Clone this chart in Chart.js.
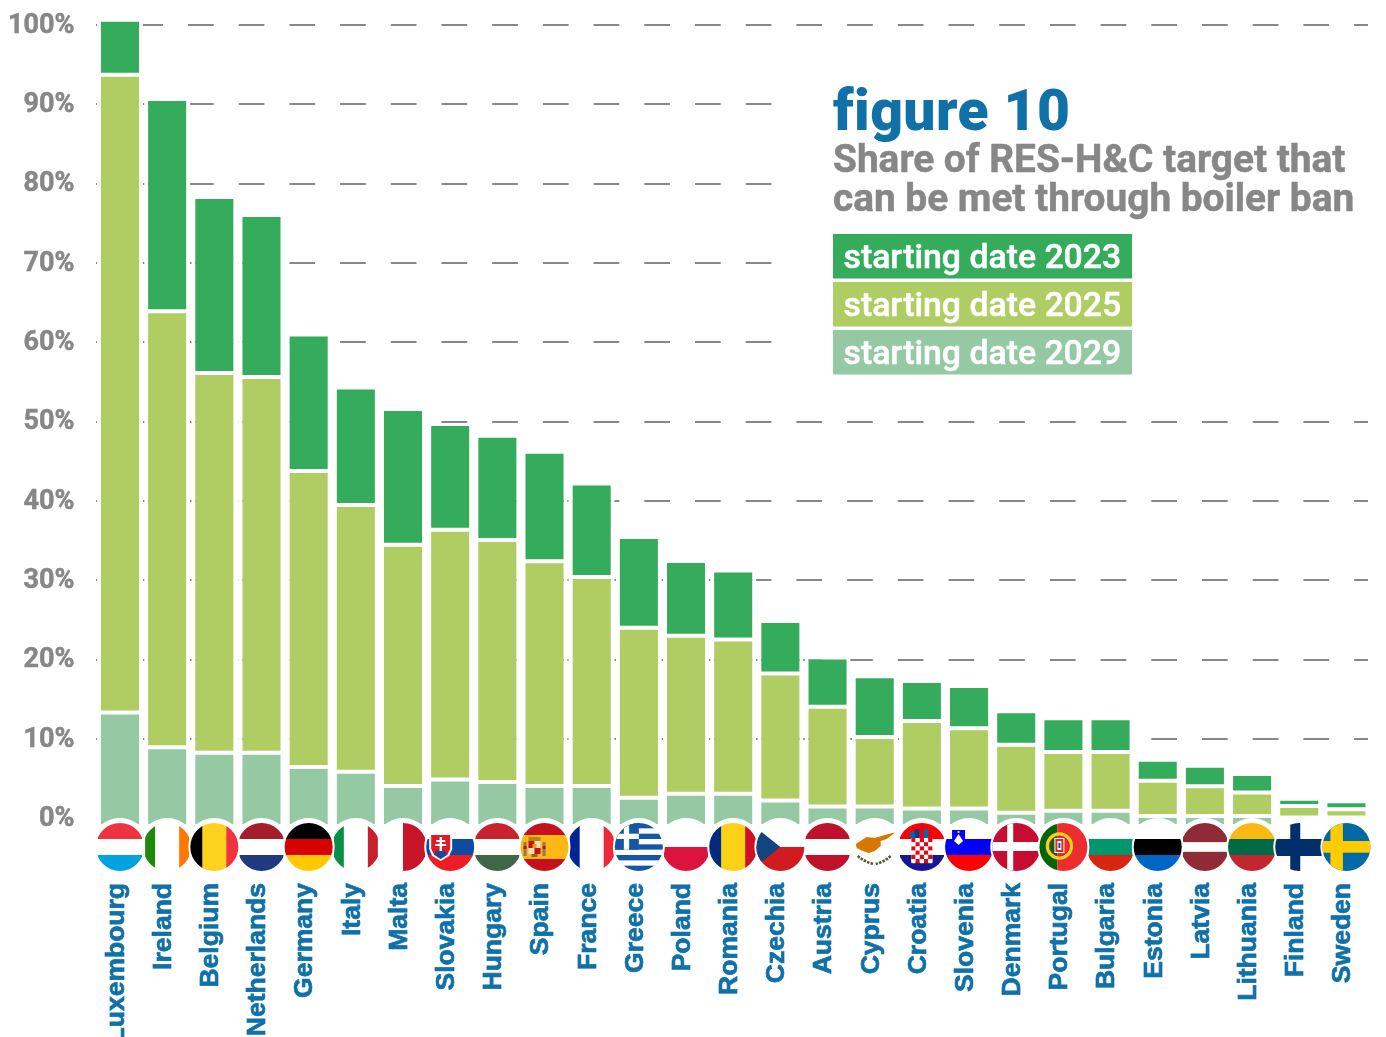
<!DOCTYPE html>
<html><head><meta charset="utf-8">
<style>html,body{margin:0;padding:0;background:#fff;overflow:hidden}#w{width:1386px;height:1037px;position:relative}canvas{display:block}</style>
<script src="https://cdn.jsdelivr.net/npm/chart.js@4/dist/chart.umd.min.js"></script>
</head><body><div id="w"><canvas id="c" width="1386" height="1037"></canvas></div>
<script>
const countries=["Luxembourg","Ireland","Belgium","Netherlands","Germany","Italy","Malta","Slovakia","Hungary","Spain","France","Greece","Poland","Romania","Czechia","Austria","Cyprus","Croatia","Slovenia","Denmark","Portugal","Bulgaria","Estonia","Latvia","Lithuania","Finland","Sweden"];
const share2029=[13.36,8.98,8.28,8.28,6.48,5.89,4.09,4.89,4.59,4.09,4.09,2.6,3.09,3.09,2.25,1.5,1.5,1.25,1.25,0.7,0.95,0.95,0.3,0.3,0.3,null,null];
const share2025=[80.36,54.93,47.86,47.36,37.29,33.6,30.41,31.5,30.51,28.31,26.32,21.44,19.94,19.44,16,12.56,8.77,11.02,10.12,8.57,7.43,7.43,4.44,3.75,2.96,1.56,1.15];
const share2023=[6.93,26.77,22.18,20.39,17.2,14.81,17.1,13.31,13.11,13.81,11.81,11.42,9.42,8.72,6.63,6.23,7.63,5.03,5.33,4.24,4.24,4.24,2.66,2.59,2.34,0.92,1.01];
const yTicks=[0,10,20,30,40,50,60,70,80,90,100];
const titleText="figure 10";
const subtitleLines=["Share of RES-H&C target that","can be met through boiler ban"];
const legendLabels=["starting date 2023","starting date 2025","starting date 2029"];

const GREEN="#35ac5b",LIME="#afcd62",PALE="#95c9a3",BLUE="#1070a8",GREY="#878787";
const FLOOR=-0.96;

const flagSpecs={
 Luxembourg:{h:["#ef3340","#fff","#00a3e0"]},Ireland:{v:["#1f8a0a","#fff","#ff7900"]},Belgium:{v:["#000","#fdd31f","#ef3340"]},
 Netherlands:{h:["#a51d2d","#fff","#1f3a7f"]},Germany:{h:["#000","#d80000","#ffc800"]},Italy:{v:["#0a8f46","#fff","#c8202f"]},
 Malta:{v2:["#fff","#c8152a"]},Slovakia:{h:["#fff","#0d4ca1","#ee1c25"]},Hungary:{h:["#c8242f","#fff","#3f6645"]},
 Spain:{hw:[["#c4111b",1],["#fdb913",2],["#c4111b",1]]},France:{v:["#002395","#fff","#ed2939"]},Greece:{h:["#fff"]},
 Poland:{hw:[["#fff",1],["#dc143c",1]]},Romania:{v:["#002b7f","#fcd116","#ce1126"]},Czechia:{hw:[["#fff",1],["#d01c1f",1]]},
 Austria:{h:["#c0112b","#fff","#c0112b"]},Cyprus:{h:["#fff"]},Croatia:{h:["#ff0000","#fff","#171796"]},Slovenia:{h:["#fff","#0000ff","#ff0000"]},
 Denmark:{h:["#c60c30"]},Portugal:{v2:["#006600","#ee2e2e"],split:-6},Bulgaria:{h:["#fff","#00966e","#d62612"]},Estonia:{h:["#fff","#000","#0066c6"]},
 Latvia:{hw:[["#8f2a36",2],["#fff",1],["#8f2a36",2]]},Lithuania:{h:["#fdb913","#006a44","#c1272d"]},Finland:{h:["#fff"]},Sweden:{h:["#006aa7"]}
};
const topFlags=["Belgium","Germany","Slovakia","Spain","Greece","Romania","Czechia","Slovenia","Denmark","Portugal","Estonia","Lithuania","Finland","Sweden"];

function drawFlag(ctx,name,cx,cy,r){
 const s=flagSpecs[name];ctx.save();ctx.beginPath();ctx.arc(cx,cy,r,0,Math.PI*2);ctx.clip();
 const L=cx-36,T=cy-24,W=72,H=48;
 const rect=(c,x,y,w,h)=>{ctx.fillStyle=c;ctx.fillRect(cx+x,cy+y,w,h)};
 const poly=(c,pts)=>{ctx.fillStyle=c;ctx.beginPath();pts.forEach((p,i)=>i?ctx.lineTo(cx+p[0],cy+p[1]):ctx.moveTo(cx+p[0],cy+p[1]));ctx.closePath();ctx.fill()};
 if(s.h){const n=s.h.length;s.h.forEach((c,i)=>{ctx.fillStyle=c;ctx.fillRect(L,T+i*H/n,W,H/n+.5)})}
 if(s.hw){const t=s.hw.reduce((a,b)=>a+b[1],0);let y=T;s.hw.forEach(([c,w])=>{ctx.fillStyle=c;ctx.fillRect(L,y,W,H*w/t+.5);y+=H*w/t})}
 if(s.v){s.v.forEach((c,i)=>{ctx.fillStyle=c;ctx.fillRect(L+i*24,T,24.5,H)})}
 if(s.v2){const k=s.split||0;ctx.fillStyle=s.v2[0];ctx.fillRect(L,T,36+k,H);ctx.fillStyle=s.v2[1];ctx.fillRect(cx+k,T,36-k,H)}
 if(name==="Slovakia"){poly("#fff",[[-21,-14],[2,-14],[2,2],[-1,9],[-9.5,14],[-18,9],[-21,2]]);
  poly("#e01b24",[[-19,-12],[0,-12],[0,2],[-3,8],[-9.5,12],[-16,8],[-19,2]]);
  rect("#fff",-10.6,-10,2.4,14);rect("#fff",-14,-7,9,2);rect("#fff",-15,-3,11,2);poly("#0d4ca1",[[-16,7],[-13,3],[-9.5,5],[-6,3],[-3,7],[-9.5,12]])}
 if(name==="Spain"){rect("#b8860b",-16,-10,12,4);rect("#c4111b",-16,-6,6,7);rect("#f2dcc0",-10,-6,6,7);rect("#f2dcc0",-16,1,6,6);rect("#c4111b",-10,1,6,6);rect("#d9a520",-12,-3,4,4);rect("#8a6a10",-13,7,6,3);
  rect("#8c7a5a",-21,-5,3,14);rect("#c4111b",-21,-1,3,3);rect("#8c7a5a",-2,-5,3,14);rect("#c4111b",-2,-1,3,3)}
 if(name==="Greece"){ctx.fillStyle="#1556a8";for(let i=0;i<5;i++)ctx.fillRect(L,T+i*48/9*2,W,48/9);rect("#1556a8",-36,-24,36,26.7);rect("#fff",-15,-24,5.3,26.7);rect("#fff",-36,-13.3,36,5.3)}
 if(name==="Czechia"){poly("#11457e",[[-30,-24],[0,0],[-30,24]])}
 if(name==="Cyprus"){poly("#d57800",[[-19,-3],[-8,-10],[0,-9],[10,-12],[21,-15],[12,-8],[6,-6],[6,-1],[0,4],[-6,6],[-12,4],[-18,1]]);
  ctx.strokeStyle="#4e5b31";ctx.lineWidth=2.6;ctx.setLineDash([2.5,1.2]);ctx.beginPath();ctx.moveTo(cx-17,cy+9);ctx.quadraticCurveTo(cx-10,cy+15,cx-1,cy+17);ctx.moveTo(cx+16,cy+9);ctx.quadraticCurveTo(cx+9,cy+15,cx+1,cy+17);ctx.stroke();ctx.setLineDash([])}
 if(name==="Croatia"){rect("#fff",-10.5,-9,21,24);const sz=4.2;for(let j=0;j<6;j++)for(let i=0;i<5;i++){ctx.fillStyle=(i+j)%2?"#fff":"#e30613";ctx.fillRect(cx-10.5+i*sz,cy-9+j*sz,sz,sz)}
  rect("#0a63b0",-12,-15,5,6);rect("#0a3d91",-7,-18,4.5,9);rect("#e30613",-2.5,-19,4.5,10);rect("#0a63b0",2,-18,4.5,9);rect("#e30613",6.5,-15,5,6)}
 if(name==="Slovenia"){rect("#0000ff",-17,-17,13,11);poly("#0000ff",[[-17,-6],[-4,-6],[-10.5,1]]);poly("#fff",[[-15,-6],[-10.5,-13],[-6,-6],[-10.5,-2]]);rect("#ffd000",-11.5,-16,2,2)}
 if(name==="Denmark"){rect("#fff",-36,-5,72,9);rect("#fff",-9,-24,6,48)}
 if(name==="Portugal"){ctx.strokeStyle="#f0d21c";ctx.lineWidth=3.4;ctx.beginPath();ctx.arc(cx-4,cy-1,12,0,Math.PI*2);ctx.stroke();ctx.strokeStyle="#c8202f";ctx.lineWidth=.8;ctx.beginPath();ctx.arc(cx-4,cy-1,10,0,Math.PI*2);ctx.stroke();rect("#fff",-9,-9,10,15);rect("#e02a2a",-8,-8,8,13);rect("#fff",-6,-6,4,9);rect("#1f4fa0",-5,-4,2,5)}
 if(name==="Finland"){rect("#002f6c",-9,-24,10,48);rect("#002f6c",-36,-8,72,17)}
 if(name==="Sweden"){rect("#fecc00",-16,-24,12.5,48);rect("#fecc00",-36,-6,72,11.7)}
 ctx.restore();
}

const decorations={id:"decorations",
 beforeDatasetsDraw(chart){const c=chart.ctx;c.save();c.fillStyle="#fff";c.fillRect(775,60,611,320);c.fillRect(1368,0,18,826);c.restore()},
 afterDatasetsDraw(chart){
  const c=chart.ctx,x=chart.scales.x,cy=847;c.save();
  c.fillStyle="#fff";countries.forEach((n,i)=>{c.beginPath();c.arc(x.getPixelForValue(i),cy,29,0,Math.PI*2);c.fill()});
  countries.forEach((n,i)=>{if(!topFlags.includes(n)){const px=x.getPixelForValue(i);c.save();c.beginPath();c.rect(px-22,cy-26,44,52);c.clip();drawFlag(c,n,px,cy,24);c.restore()}});
  countries.forEach((n,i)=>{if(topFlags.includes(n)){const px=x.getPixelForValue(i);c.fillStyle="#fff";c.beginPath();c.arc(px,cy,26,0,Math.PI*2);c.fill();drawFlag(c,n,px,cy,24)}});
  c.textBaseline="alphabetic";c.textAlign="left";c.lineJoin="round";
  c.letterSpacing="0.4px";
  c.fillStyle=BLUE;c.font="900 57px Roboto";c.fillText(titleText,833,130);
  c.letterSpacing="0px";
  c.fillStyle=GREY;c.strokeStyle=GREY;c.lineWidth=.5;c.font="bold 38.8px Roboto";subtitleLines.forEach((t,i)=>{c.fillText(t,833,172+i*39);c.strokeText(t,833,172+i*39)});
  [GREEN,LIME,PALE].forEach((col,i)=>{const y=234+i*48;c.fillStyle=col;c.fillRect(833,y,299,44.5);c.fillStyle="#fff";c.strokeStyle="#fff";c.font="500 33.8px Roboto";c.fillText(legendLabels[i],843.5,y+34);c.strokeText(legendLabels[i],843.5,y+34)});
  c.restore();
 }};

const mk=(label,data,color,extra)=>Object.assign({label,data,backgroundColor:color,borderColor:"#fff",borderWidth:{top:2,bottom:2,left:4,right:4},borderSkipped:false,inflateAmount:0,barPercentage:0.976,categoryPercentage:1},extra);
new Chart(document.getElementById("c"),{
 type:"bar",
 data:{labels:countries,datasets:[
  mk("starting date 2029",share2029,PALE,{base:FLOOR}),
  mk("starting date 2025",share2025,LIME,{base:ctx=>share2029[ctx.dataIndex]===null?FLOOR:undefined}),
  mk("starting date 2023",share2023,GREEN)
 ]},
 plugins:[decorations],
 options:{responsive:false,animation:false,devicePixelRatio:1,
  layout:{autoPadding:false,padding:{top:17,right:16,bottom:0,left:0}},
  plugins:{legend:{display:false},title:{display:false},tooltip:{enabled:false}},
  scales:{
   x:{stacked:true,offset:true,grid:{display:false},border:{display:false},
    afterFit(s){s.height=211;s.paddingLeft=0;s.paddingRight=0;s.paddingTop=0;s.paddingBottom=0},
    ticks:{autoSkip:false,minRotation:90,maxRotation:90,padding:49,labelOffset:-3.5,color:BLUE,textStrokeColor:BLUE,textStrokeWidth:0.7,font:{family:"'Liberation Sans'",weight:"bold",size:26.5}}},
   y:{stacked:true,min:FLOOR,max:101,
    afterFit(s){s.width=96.4;s.paddingLeft=0;s.paddingRight=0;s.paddingTop=0;s.paddingBottom=0},
    afterBuildTicks(s){s.ticks=yTicks.map(v=>({value:v}))},
    border:{display:false,dash:[25.7,25],dashOffset:9.4},
    grid:{drawTicks:false,lineWidth:2,color:ctx=>ctx.tick&&ctx.tick.value===0?"rgba(0,0,0,0)":"#888888"},
    ticks:{padding:22,labelOffset:1,color:GREY,textStrokeColor:GREY,textStrokeWidth:0.5,font:{family:"Roboto",weight:"bold",size:27},callback:v=>v+"%"}}
  }
 }
});
</script>
</body></html>
